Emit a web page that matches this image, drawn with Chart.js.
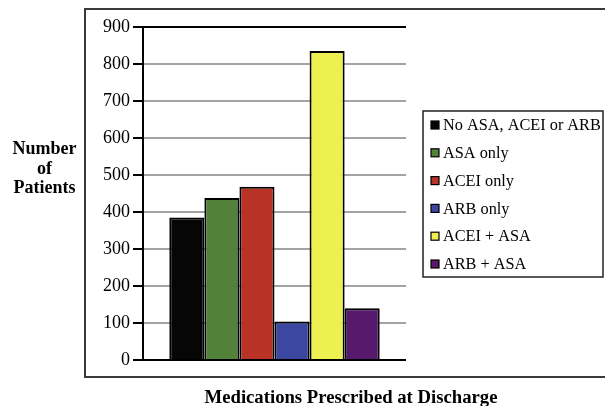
<!DOCTYPE html>
<html>
<head>
<meta charset="utf-8">
<script src="https://cdn.jsdelivr.net/npm/chart.js@4"></script>
<style>
  html, body { margin: 0; padding: 0; background: #ffffff; }
  #wrap { width: 605px; height: 406px; }
</style>
</head>
<body>
<div id="wrap"><canvas id="c" width="605" height="406"></canvas></div>
<script>
// Patients by discharge medication group
const categories = ['No ASA, ACEI or ARB', 'ASA only', 'ACEI only', 'ARB only', 'ACEI + ASA', 'ARB + ASA'];
const patients = [385, 438, 468, 104, 835, 140];
const barColors = ['#060606', '#52823a', '#b83226', '#3b47a0', '#eef052', '#56196b'];
const yTicks = [0, 100, 200, 300, 400, 500, 600, 700, 800, 900];
const yTitleLines = ['Number', 'of', 'Patients'];
const xTitle = 'Medications Prescribed at Discharge';

const SERIF = '"Liberation Serif", "Times New Roman", serif';

const datasets = categories.map((name, i) => ({
  label: name,
  data: [patients[i]],
  backgroundColor: barColors[i],
  borderColor: '#000000',
  borderWidth: 2,
  categoryPercentage: 0.8,
  barPercentage: 1.0
}));

// Outer frame, axis titles and the boxed legend
const decorations = {
  id: 'decorations',
  beforeDraw(chart) {
    const ctx = chart.ctx;
    ctx.save();
    ctx.fillStyle = '#ffffff';
    ctx.fillRect(0, 0, chart.width, chart.height);
    ctx.restore();
  },
  afterDraw(chart) {
    const ctx = chart.ctx;
    const area = chart.chartArea;
    ctx.save();

    // frame around plot and legend
    ctx.strokeStyle = '#3a3a3a';
    ctx.lineWidth = 2;
    ctx.strokeRect(85, 9, 530, 368);

    // y title, three centred lines left of the frame
    ctx.fillStyle = '#000000';
    ctx.font = 'bold 18px ' + SERIF;
    ctx.textAlign = 'center';
    ctx.textBaseline = 'alphabetic';
    const yMid = (area.top + area.bottom) / 2;
    yTitleLines.forEach((line, i) => {
      ctx.fillText(line, 44.5, yMid - 39.5 + i * 19.5);
    });

    // x title below the frame
    ctx.font = 'bold 18.7px ' + SERIF;
    ctx.fillText(xTitle, 351, 403);

    // legend
    const lx = 423, ly = 111, lw = 180, lh = 166;
    ctx.strokeStyle = '#222222';
    ctx.lineWidth = 1.5;
    ctx.strokeRect(lx, ly, lw, lh);
    ctx.font = '16.3px ' + SERIF;
    ctx.textAlign = 'left';
    ctx.textBaseline = 'middle';
    categories.forEach((name, i) => {
      const cy = 125 + i * 27.8;
      ctx.fillStyle = barColors[i];
      ctx.fillRect(431, cy - 4, 8, 8);
      ctx.strokeStyle = '#000000';
      ctx.lineWidth = 1.2;
      ctx.strokeRect(431, cy - 4, 8, 8);
      ctx.fillStyle = '#000000';
      ctx.fillText(name, 443, cy + 1);
    });
    ctx.restore();
  }
};

new Chart(document.getElementById('c'), {
  type: 'bar',
  data: { labels: [''], datasets },
  options: {
    responsive: false,
    animation: false,
    devicePixelRatio: 1,
    layout: { padding: { left: 85, top: 27, right: 199, bottom: 46 } },
    plugins: {
      legend: { display: false },
      tooltip: { enabled: false },
      title: { display: false }
    },
    scales: {
      x: {
        display: true,
        ticks: { display: false },
        grid: { display: false, drawTicks: false },
        border: { display: false },
        afterFit(scale) { scale.height = 0; }
      },
      y: {
        min: 0,
        max: 900,
        afterBuildTicks(scale) { scale.ticks = yTicks.map(v => ({ value: v })); },
        afterFit(scale) { scale.width = 58; },
        ticks: {
          color: '#000000',
          font: { family: SERIF, size: 18 },
          padding: 3
        },
        grid: {
          color: ctx => (ctx.tick && (ctx.tick.value === 0 || ctx.tick.value === 900)) ? '#000000' : '#a3a3a3',
          lineWidth: 2,
          tickColor: '#000000',
          tickLength: 10,
          drawTicks: true
        },
        border: { display: true, color: '#000000', width: 2 }
      }
    }
  },
  plugins: [decorations]
});
</script>
</body>
</html>
